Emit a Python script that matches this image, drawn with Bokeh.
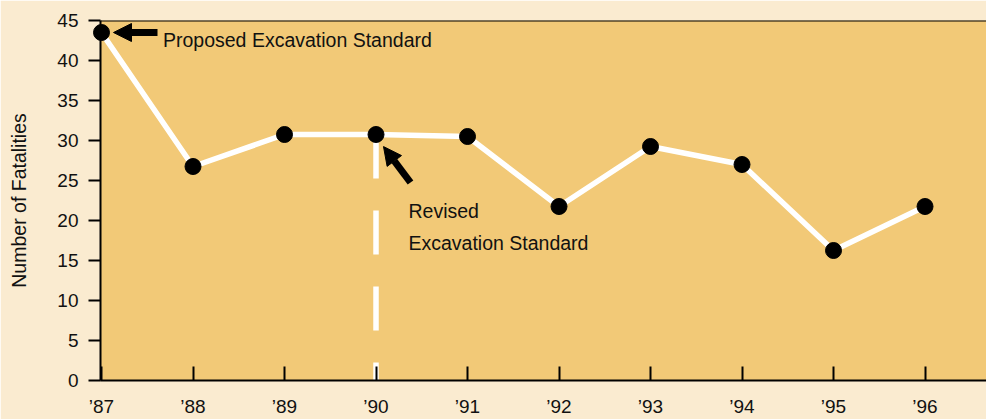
from bokeh.plotting import figure
from bokeh.models import FixedTicker, Span, Arrow, NormalHead, Label
from bokeh.embed import file_html
from bokeh.resources import INLINE

# ---- data ----
years = [1987, 1988, 1989, 1990, 1991, 1992, 1993, 1994, 1995, 1996]
tick_labels = ["’87", "’88", "’89", "’90", "’91", "’92", "’93", "’94", "’95", "’96"]
fatalities = [43.5, 26.75, 30.75, 30.75, 30.5, 21.75, 29.25, 27.0, 16.25, 21.75]
y_ticks = [0, 5, 10, 15, 20, 25, 30, 35, 40, 45]
proposed_year = 1987
revised_year = 1990
proposed_text = "Proposed Excavation Standard"
revised_text = ["Revised", "Excavation Standard"]

# ---- style ----
BG = "#FAEBD0"
PLOT_BG = "#F2C977"
FONT = "Liberation Sans"
INK = "#111111"

p = figure(width=986, height=419, output_backend="svg", toolbar_location=None,
           x_range=(1986.989, 1996.672), y_range=(0, 45),
           min_border_left=100, min_border_right=0, min_border_top=20,
           min_border_bottom=37,
           background_fill_color=PLOT_BG, border_fill_color=BG,
           outline_line_color=None)
p.grid.visible = False

# top frame line
p.add_layout(Span(location=45, dimension="width", line_color="black", line_width=2))

# dashed vertical marker for revised standard
ri = years.index(revised_year)
p.line([years[ri], years[ri]], [fatalities[ri], 0], line_color="white",
       line_width=5.5, line_dash="44 32")

# main series
p.line(years, fatalities, line_color="white", line_width=5.5, line_join="round")
pts = p.scatter(years, fatalities, size=16, fill_color="black", line_color="black")
pts.level = "overlay"

# axes
p.yaxis.ticker = FixedTicker(ticks=y_ticks)
p.yaxis.axis_label = "Number of Fatalities"
p.yaxis.axis_label_text_font = FONT
p.yaxis.axis_label_text_font_size = "19.5px"
p.yaxis.axis_label_text_font_style = "normal"
p.yaxis.axis_label_text_color = INK
p.yaxis.axis_label_standoff = 24
p.yaxis.major_label_text_font = FONT
p.yaxis.major_label_text_font_size = "19px"
p.yaxis.major_label_text_color = INK
p.yaxis.major_label_standoff = 10
p.yaxis.major_tick_out = 12
p.yaxis.major_tick_in = 0
p.yaxis.minor_tick_line_color = None
p.yaxis.major_tick_line_width = 2
p.yaxis.axis_line_width = 2

p.xaxis.ticker = FixedTicker(ticks=years)
p.xaxis.major_label_overrides = {y: t for y, t in zip(years, tick_labels)}
p.xaxis.major_label_text_font = FONT
p.xaxis.major_label_text_font_size = "19px"
p.xaxis.major_label_text_color = INK
p.xaxis.major_label_standoff = 15
p.xaxis.major_tick_in = 14
p.xaxis.major_tick_out = 0
p.xaxis.minor_tick_line_color = None
p.xaxis.major_tick_line_width = 2
p.xaxis.axis_line_width = 2

# annotations
pi = years.index(proposed_year)
p.add_layout(Arrow(x_start=proposed_year + 0.612, y_start=fatalities[pi],
                   x_end=proposed_year + 0.131, y_end=fatalities[pi],
                   line_color="black", line_width=7,
                   end=NormalHead(size=18, fill_color="black", line_color="black")))
p.add_layout(Label(x=proposed_year + 0.672, y=42.6, text=proposed_text,
                   text_font=FONT, text_font_size="19.5px", text_color=INK,
                   text_baseline="alphabetic"))

p.add_layout(Arrow(x_start=revised_year + 0.377, y_start=24.75,
                   x_end=revised_year + 0.082, y_end=29.24,
                   line_color="black", line_width=7,
                   end=NormalHead(size=18, fill_color="black", line_color="black")))
p.add_layout(Label(x=revised_year + 0.355, y=21.2, text=revised_text[0],
                   text_font=FONT, text_font_size="19.5px", text_color=INK,
                   text_baseline="alphabetic"))
p.add_layout(Label(x=revised_year + 0.355, y=17.25, text=revised_text[1],
                   text_font=FONT, text_font_size="19.5px", text_color=INK,
                   text_baseline="alphabetic"))

open("out.html", "w").write(file_html(p, INLINE))
